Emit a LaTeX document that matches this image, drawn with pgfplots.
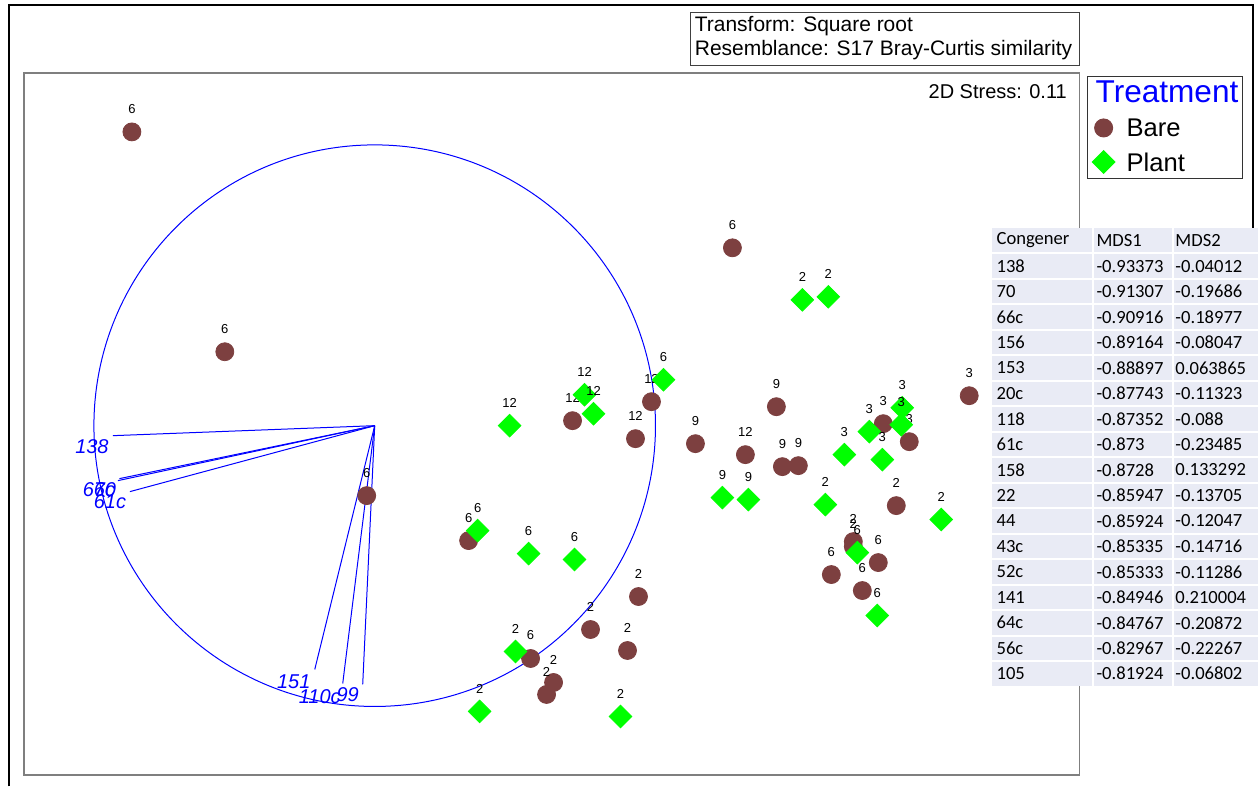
\documentclass[border=0pt]{standalone}
\usepackage{pgfplots}
\pgfplotsset{compat=1.18}
\usepackage{fontspec}
\setmainfont{Liberation Sans}
\newfontfamily\tablefont{Carlito}
\definecolor{bare}{HTML}{7D4040}
\definecolor{plant}{HTML}{00FF00}
\definecolor{tbl}{HTML}{E9EBF5}
\definecolor{boxgray}{HTML}{7F7F7F}

\pgfplotstableread{
x y lab
132 132 6
225 352 6
367 496 6
733 248 6
469 541 6
573 421 12
652 402 12
636 439 12
696 444 9
777 407 9
746 455 12
783 467 9
799 466 9
884 424 3
910 442 3
970 396 3
897 506 2
854 542 2
854 547 2
832 575 6
879 563 6
863 591 6
639 597 2
591 630 2
628 651 2
531 659 6
554 683 2
547 695 2
}\baretable

\pgfplotstableread{
x y lab
510 426 12
585 395 12
594 414 12
664 380 6
478 531 6
529 554 6
575 560 6
803 300 2
829 297 2
723 498 9
749 500 9
826 505 2
845 455 3
870 432 3
903 408 3
902 425 3
883 460 3
942 520 2
858 553 6
878 616 6
516 652 2
480 712 2
621 717 2
}\planttable

\begin{document}
\begin{tikzpicture}
\begin{scope}[x=0.5pt,y=-0.5pt]
\path (0,0) rectangle (1259,787);
\draw[line width=1pt] (9,787) -- (9,5) -- (1254,5) -- (1254,240);
\draw[black!75, line width=0.5pt] (691,13) rectangle (1080,65.5);
\node[anchor=west, inner sep=0pt, font=\fontsize{10.5}{12}\selectfont] at (695,26) {Transform: Square root};
\node[anchor=west, inner sep=0pt, font=\fontsize{10.5}{12}\selectfont] at (695,50) {Resemblance: S17 Bray-Curtis similarity};
\end{scope}
\begin{axis}[
  at={(12pt,-36.5pt)}, anchor=north west,
  scale only axis, width=528pt, height=351.25pt,
  xmin=24, xmax=1080, ymin=73, ymax=775.5, y dir=reverse,
  xtick=\empty, ytick=\empty,
  axis line style={boxgray, line width=0.6pt},
  clip=false,
  point meta=explicit symbolic,
  nodes near coords,
  nodes near coords style={font=\fontsize{6.5}{7}\selectfont, anchor=center, yshift=11.5pt, inner sep=0pt, text=black},
  legend style={at={(axis description cs:1.0076,0.996)}, anchor=north west,
    draw=black!80, line width=0.5pt, inner xsep=2pt, inner ysep=2.5pt,
    font=\fontsize{12.8}{14}\selectfont, cells={anchor=west},
    nodes={inner sep=0pt, text depth=0pt}, row sep=5pt,
    /tikz/every odd column/.append style={column sep=5.5pt}},
  legend image code/.code={\path[draw=none] (-6pt,-6pt) rectangle (6pt,6pt); \draw[#1] plot coordinates {(0pt,0pt)};},
]
\addlegendimage{empty legend}
\addlegendentry{\hspace{-15.5pt}\raisebox{1.5pt}{\textcolor{blue}{\fontsize{15.8}{17}\selectfont Treatment}}}
\addplot[only marks, mark=*, mark size=4.5pt, mark options={draw=bare, fill=bare}] table[x=x, y=y, meta=lab] {\baretable};
\addlegendentry{Bare}
\addplot[only marks, mark=square*, mark size=4pt, mark options={draw=plant, fill=plant, rotate=45}] table[x=x, y=y, meta=lab] {\planttable};
\addlegendentry{Plant}
\draw[blue, line width=0.5pt] (axis cs:375,426) circle[radius=140.5pt];
\draw[blue, line width=0.5pt] (axis cs:375,426) -- (axis cs:113,436);
\draw[blue, line width=0.5pt] (axis cs:375,426) -- (axis cs:118,481);
\draw[blue, line width=0.5pt] (axis cs:375,426) -- (axis cs:119.5,479);
\draw[blue, line width=0.5pt] (axis cs:375,426) -- (axis cs:130,492);
\draw[blue, line width=0.5pt] (axis cs:375,426) -- (axis cs:315,670);
\draw[blue, line width=0.5pt] (axis cs:375,426) -- (axis cs:343,684);
\draw[blue, line width=0.5pt] (axis cs:375,426) -- (axis cs:363,685);
\begin{scope}[every node/.style={text=blue, font=\fontsize{10}{12}\selectfont\itshape, inner sep=0pt}]
\node at (axis cs:92,447) {138};
\node at (axis cs:99,490) {66c};
\node at (axis cs:105,490) {70};
\node at (axis cs:110,502) {61c};
\node at (axis cs:294,682) {151};
\node at (axis cs:320,697) {110c};
\node at (axis cs:348,695) {99};
\end{scope}
\node[anchor=east, inner sep=0pt, font=\fontsize{10}{12}\selectfont] at (axis cs:1068,92) {2D Stress: 0.11};
\end{axis}
\begin{scope}[x=0.5pt,y=-0.5pt]
\fill[tbl] (993,228) rectangle (1259,687);
\foreach \k in {1,...,17} {\draw[white, line width=1pt] (993,228+25.5*\k) -- (1259,228+25.5*\k);}
\draw[white, line width=1pt] (1094,228) -- (1094,687);
\draw[white, line width=1pt] (1174,228) -- (1174,687);
\begin{scope}[every node/.style={anchor=west, inner sep=0pt, font=\tablefont\fontsize{9.3}{11}\selectfont}]
\foreach \a/\b/\c [count=\i from 0] in {Congener/MDS1/MDS2,138/-0.93373/-0.04012,70/-0.91307/-0.19686,66c/-0.90916/-0.18977,156/-0.89164/-0.08047,153/-0.88897/0.063865,20c/-0.87743/-0.11323,118/-0.87352/-0.088,61c/-0.873/-0.23485,158/-0.8728/0.133292,22/-0.85947/-0.13705,44/-0.85924/-0.12047,43c/-0.85335/-0.14716,52c/-0.85333/-0.11286,141/-0.84946/0.210004,64c/-0.84767/-0.20872,56c/-0.82967/-0.22267,105/-0.81924/-0.06802} {
  \node at (997,240.75+25.5*\i) {\a};
  \node at (1097,240.75+25.5*\i) {\b};
  \node at (1176,240.75+25.5*\i) {\c};
}
\end{scope}
\end{scope}
\end{tikzpicture}
\end{document}
